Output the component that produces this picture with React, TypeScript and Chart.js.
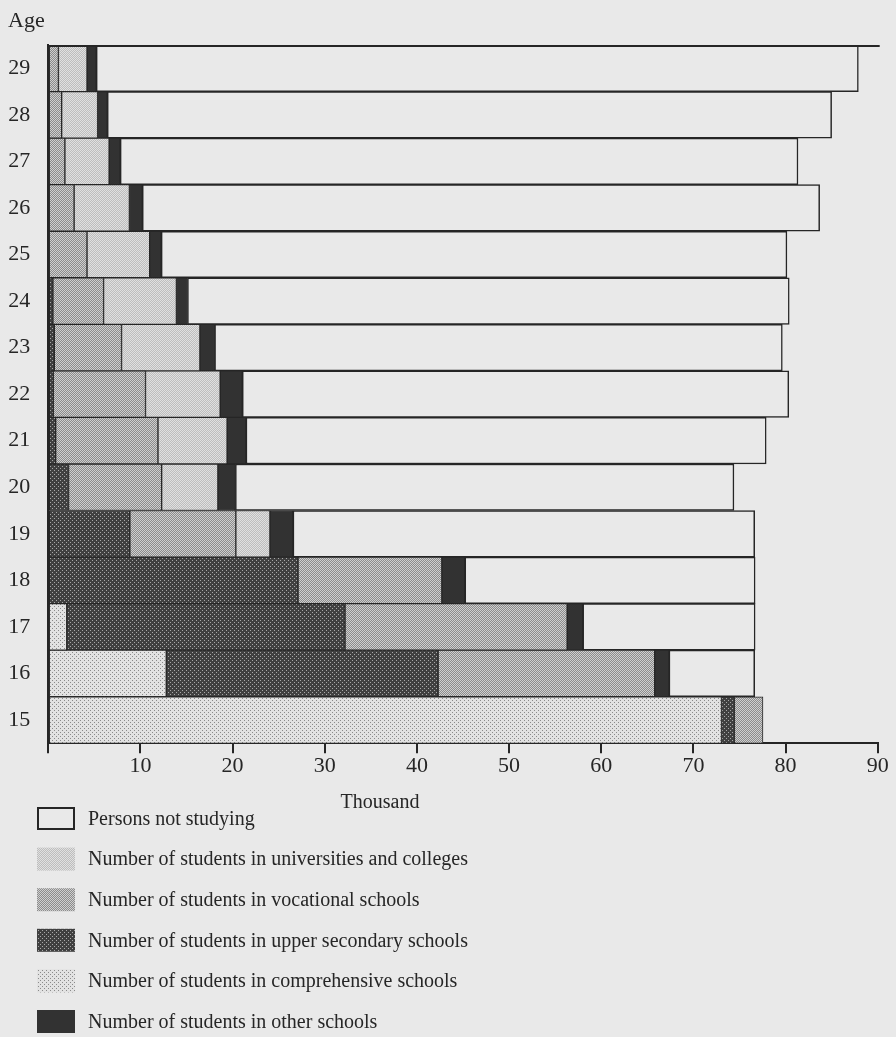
import React, { useEffect, useRef } from "react";
import { Chart, registerables } from "chart.js";

Chart.register(...registerables);

const ages = ["15", "16", "17", "18", "19", "20", "21", "22", "23", "24", "25", "26", "27", "28", "29"];
const xTicks = [0, 10, 20, 30, 40, 50, 60, 70, 80, 90];

const comprehensive = [73.05, 12.8, 2.0, 0, 0, 0, 0, 0, 0, 0, 0, 0, 0, 0, 0];
const upperSecondary = [1.4, 29.5, 30.2, 27.1, 8.85, 2.2, 0.8, 0.55, 0.65, 0.5, 0, 0, 0, 0, 0];
const vocational = [3.1, 23.5, 24.1, 15.6, 11.5, 10.1, 11.1, 10.0, 7.3, 5.5, 4.2, 2.8, 1.8, 1.45, 1.1];
const universities = [0, 0, 0, 0, 3.7, 6.1, 7.5, 8.1, 8.5, 7.9, 6.8, 6.0, 4.8, 3.9, 3.1];
const otherSchools = [0, 1.55, 1.7, 2.5, 2.5, 1.9, 2.05, 2.4, 1.6, 1.2, 1.25, 1.4, 1.2, 1.05, 1.0];
const notStudying = [0, 9.3, 18.7, 31.5, 50.1, 54.1, 56.45, 59.3, 61.6, 65.3, 67.9, 73.5, 73.55, 78.6, 82.7];

const labelNotStudying = "Persons not studying";
const labelUniversities = "Number of students in universities and colleges";
const labelVocational = "Number of students in vocational schools";
const labelUpper = "Number of students in upper secondary schools";
const labelComprehensive = "Number of students in comprehensive schools";
const labelOther = "Number of students in other schools";

const SERIF = "'Liberation Serif', 'DejaVu Serif', serif";
const PAPER = "#e9e9e9";
const INK = "#262626";

function makePattern(bg: string, fg: string, size: number, dots: number[][]) {
  const c = document.createElement("canvas");
  c.width = size;
  c.height = size;
  const g = c.getContext("2d")!;
  g.fillStyle = bg;
  g.fillRect(0, 0, size, size);
  g.fillStyle = fg;
  dots.forEach(([x, y]) => g.fillRect(x, y, 1, 1));
  const ctx = document.createElement("canvas").getContext("2d")!;
  return ctx.createPattern(c, "repeat") as CanvasPattern;
}

const nz = (arr: number[]) => arr.map((v) => (v === 0 ? null : v));

export default function App() {
  const ref = useRef<HTMLCanvasElement | null>(null);

  useEffect(() => {
    if (!ref.current) return;
    const pComp = makePattern("#e2e2e2", "#8a8a8a", 4, [[0, 0], [2, 2]]);
    const pUpper = makePattern("#404040", "#a8a8a8", 4, [[0, 0], [2, 2]]);
    const pVoc = makePattern("#8c8c8c", "#cfcfcf", 2, [[0, 0], [1, 1]]);
    const pUni = makePattern("#bdbdbd", "#e0e0e0", 2, [[0, 0], [1, 1]]);
    const solidOther = "#323232";

    const legendItems = [
      { label: labelNotStudying, fill: PAPER, border: true },
      { label: labelUniversities, fill: pUni, border: false },
      { label: labelVocational, fill: pVoc, border: false },
      { label: labelUpper, fill: pUpper, border: false },
      { label: labelComprehensive, fill: pComp, border: false },
      { label: labelOther, fill: solidOther, border: false },
    ];

    const decor = {
      id: "decor",
      beforeDraw(chart: any) {
        const c = chart.ctx;
        c.save();
        c.fillStyle = PAPER;
        c.fillRect(0, 0, chart.width, chart.height);
        c.restore();
      },
      afterDraw(chart: any) {
        const c = chart.ctx;
        const area = chart.chartArea;
        c.save();
        c.strokeStyle = INK;
        c.lineWidth = 2;
        c.beginPath();
        c.moveTo(area.left, area.top + 1);
        c.lineTo(area.right + 2, area.top + 1);
        c.stroke();
        c.fillStyle = INK;
        c.font = `22px ${SERIF}`;
        c.textAlign = "left";
        c.textBaseline = "alphabetic";
        c.fillText("Age", 8, 27);
        c.font = `20px ${SERIF}`;
        c.textAlign = "center";
        c.fillText("Thousand", 380, 808);
        c.textAlign = "left";
        c.textBaseline = "middle";
        legendItems.forEach((it, i) => {
          const top = 807 + i * 40.6;
          c.fillStyle = it.fill as any;
          c.fillRect(37, top, 38, 23);
          if (it.border) {
            c.strokeStyle = INK;
            c.lineWidth = 2;
            c.strokeRect(38, top + 1, 36, 21);
          }
          c.fillStyle = INK;
          c.font = `20px ${SERIF}`;
          c.fillText(it.label, 88, top + 12.5);
        });
        c.restore();
      },
    };

    const mk = (label: string, data: number[], bg: any, bw = 1) => ({
      label,
      data: nz(data),
      backgroundColor: bg,
      borderColor: INK,
      borderWidth: bw,
      borderSkipped: false,
      barPercentage: 1,
      categoryPercentage: 1,
    });

    const chart = new Chart(ref.current, {
      type: "bar",
      data: {
        labels: ages,
        datasets: [
          mk(labelComprehensive, comprehensive, pComp),
          mk(labelUpper, upperSecondary, pUpper),
          mk(labelVocational, vocational, pVoc),
          mk(labelUniversities, universities, pUni),
          mk(labelOther, otherSchools, solidOther),
          mk(labelNotStudying, notStudying, PAPER, 1.5),
        ] as any,
      },
      options: {
        indexAxis: "y",
        responsive: false,
        animation: false,
        devicePixelRatio: 1,
        layout: { padding: { top: 45, right: 18.3, left: 0, bottom: 0 } },
        plugins: { legend: { display: false }, tooltip: { enabled: false } },
        scales: {
          x: {
            type: "linear",
            stacked: true,
            min: 0,
            max: 90,
            afterBuildTicks: (s: any) => {
              s.ticks = xTicks.map((v) => ({ value: v }));
            },
            afterFit: (s: any) => {
              s.height = 293.7;
            },
            ticks: {
              color: INK,
              font: { family: SERIF, size: 22 },
              padding: 0,
              maxRotation: 0,
              callback: (v: any) => (v === 0 ? "" : String(v)),
            },
            grid: { drawOnChartArea: false, drawTicks: true, tickLength: 10, color: INK, lineWidth: 2 },
            border: { display: true, color: INK, width: 2 },
          },
          y: {
            stacked: true,
            reverse: true,
            afterFit: (s: any) => {
              s.width = 48.3;
            },
            ticks: {
              color: INK,
              font: { family: SERIF, size: 22 },
              padding: 18,
            },
            grid: { drawOnChartArea: false, drawTicks: false },
            border: { display: true, color: INK, width: 2 },
          },
        },
      },
      plugins: [decor],
    } as any);

    return () => chart.destroy();
  }, []);

  return (
    <div style={{ position: "absolute", left: 0, top: 0, width: 896, height: 1037, background: PAPER }}>
      <canvas ref={ref} width={896} height={1037} style={{ display: "block" }} />
    </div>
  );
}
